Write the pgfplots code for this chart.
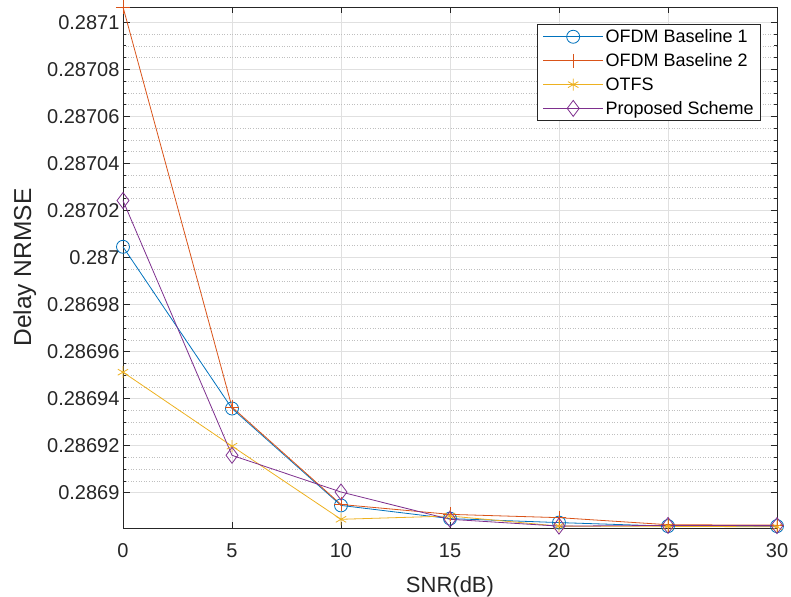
\documentclass[border=0pt]{standalone}
\usepackage{fontspec}
\setmainfont{Liberation Sans}
\usepackage{pgfplots}
\pgfplotsset{compat=1.18}
\definecolor{c1}{rgb}{0,0.447,0.741}
\definecolor{c2}{rgb}{0.85,0.325,0.098}
\definecolor{c3}{rgb}{0.929,0.694,0.125}
\definecolor{c4}{rgb}{0.494,0.184,0.556}
\definecolor{axc}{rgb}{0.15,0.15,0.15}
\begin{document}
\begin{tikzpicture}
\begin{axis}[
  scale only axis,
  width=654pt, height=521pt,
  xmin=0, xmax=30,
  ymin=0.286885, ymax=0.2871065,
  xtick={0,5,...,30},
  ytick={0.2869,0.28692,0.28694,0.28696,0.28698,0.287,0.28702,0.28704,0.28706,0.28708,0.2871},
  yticklabels={0.2869,0.28692,0.28694,0.28696,0.28698,0.287,0.28702,0.28704,0.28706,0.28708,0.2871},
  scaled y ticks=false,
  minor y tick num=3,
  tick align=inside,
  major tick length=6.5pt,
  minor tick length=3.5pt,
  xmajorgrids, ymajorgrids, yminorgrids,
  major grid style={line width=0.6pt, color=black!12},
  minor grid style={line width=0.6pt, dotted, color=black!25},
  axis line style={axc, line width=0.8pt},
  every tick/.style={axc, line width=0.7pt},
  tick label style={font=\fontsize{20}{22}\selectfont, text=axc},
  xticklabel style={yshift=-12pt},
  /pgf/number format/assume math mode=true,
  xlabel={SNR(dB)},
  ylabel={Delay NRMSE},
  xlabel style={font=\fontsize{22}{24}\selectfont, text=axc, yshift=-12pt},
  ylabel style={font=\fontsize{24.5}{26}\selectfont, text=axc, yshift=4pt},
  legend style={at={(rel axis cs:0.9755,0.967)}, anchor=north east,
    font=\fontsize{18}{20}\selectfont, draw=axc, line width=0.6pt,
    row sep=5.5pt, inner xsep=5pt, inner ysep=3pt, text=black},
  legend cell align=left,
  legend image code/.code={
    \draw[mark repeat=2,mark phase=2] plot coordinates {(0pt,0pt) (30pt,0pt) (60pt,0pt)};
  },
  every axis plot/.append style={line width=0.8pt},
  clip=false,
]
\addplot[c1, mark=o, mark size=6.5pt, mark options={line width=0.8pt}] coordinates {
(0,0.28700455) (5,0.2869358) (10,0.2868946) (15,0.2868890) (20,0.2868873) (25,0.2868858) (30,0.2868858)};
\addlegendentry{OFDM Baseline 1}
\addplot[c2, mark=+, mark size=7pt, mark options={line width=0.8pt}] coordinates {
(0,0.2871065) (5,0.2869364) (10,0.2868950) (15,0.2868908) (20,0.2868894) (25,0.2868864) (30,0.2868862)};
\addlegendentry{OFDM Baseline 2}
\addplot[c3, mark=asterisk, mark size=6pt, mark options={line width=0.8pt}] coordinates {
(0,0.28695125) (5,0.2869198) (10,0.2868887) (15,0.2868901) (20,0.2868858) (25,0.2868857) (30,0.2868855)};
\addlegendentry{OTFS}
\addplot[c4, mark=diamond, mark size=8pt, mark options={line width=0.8pt}] coordinates {
(0,0.2870242) (5,0.2869159) (10,0.2869003) (15,0.2868887) (20,0.2868858) (25,0.2868861) (30,0.2868860)};
\addlegendentry{Proposed Scheme}
\coordinate (sw) at (rel axis cs:0,0);
\coordinate (ne) at (rel axis cs:1,1);
\end{axis}
\pgfresetboundingbox
\path ([shift={(-123pt,-68pt)}]sw) rectangle ([shift={(14pt,7pt)}]ne);
\end{tikzpicture}
\end{document}
